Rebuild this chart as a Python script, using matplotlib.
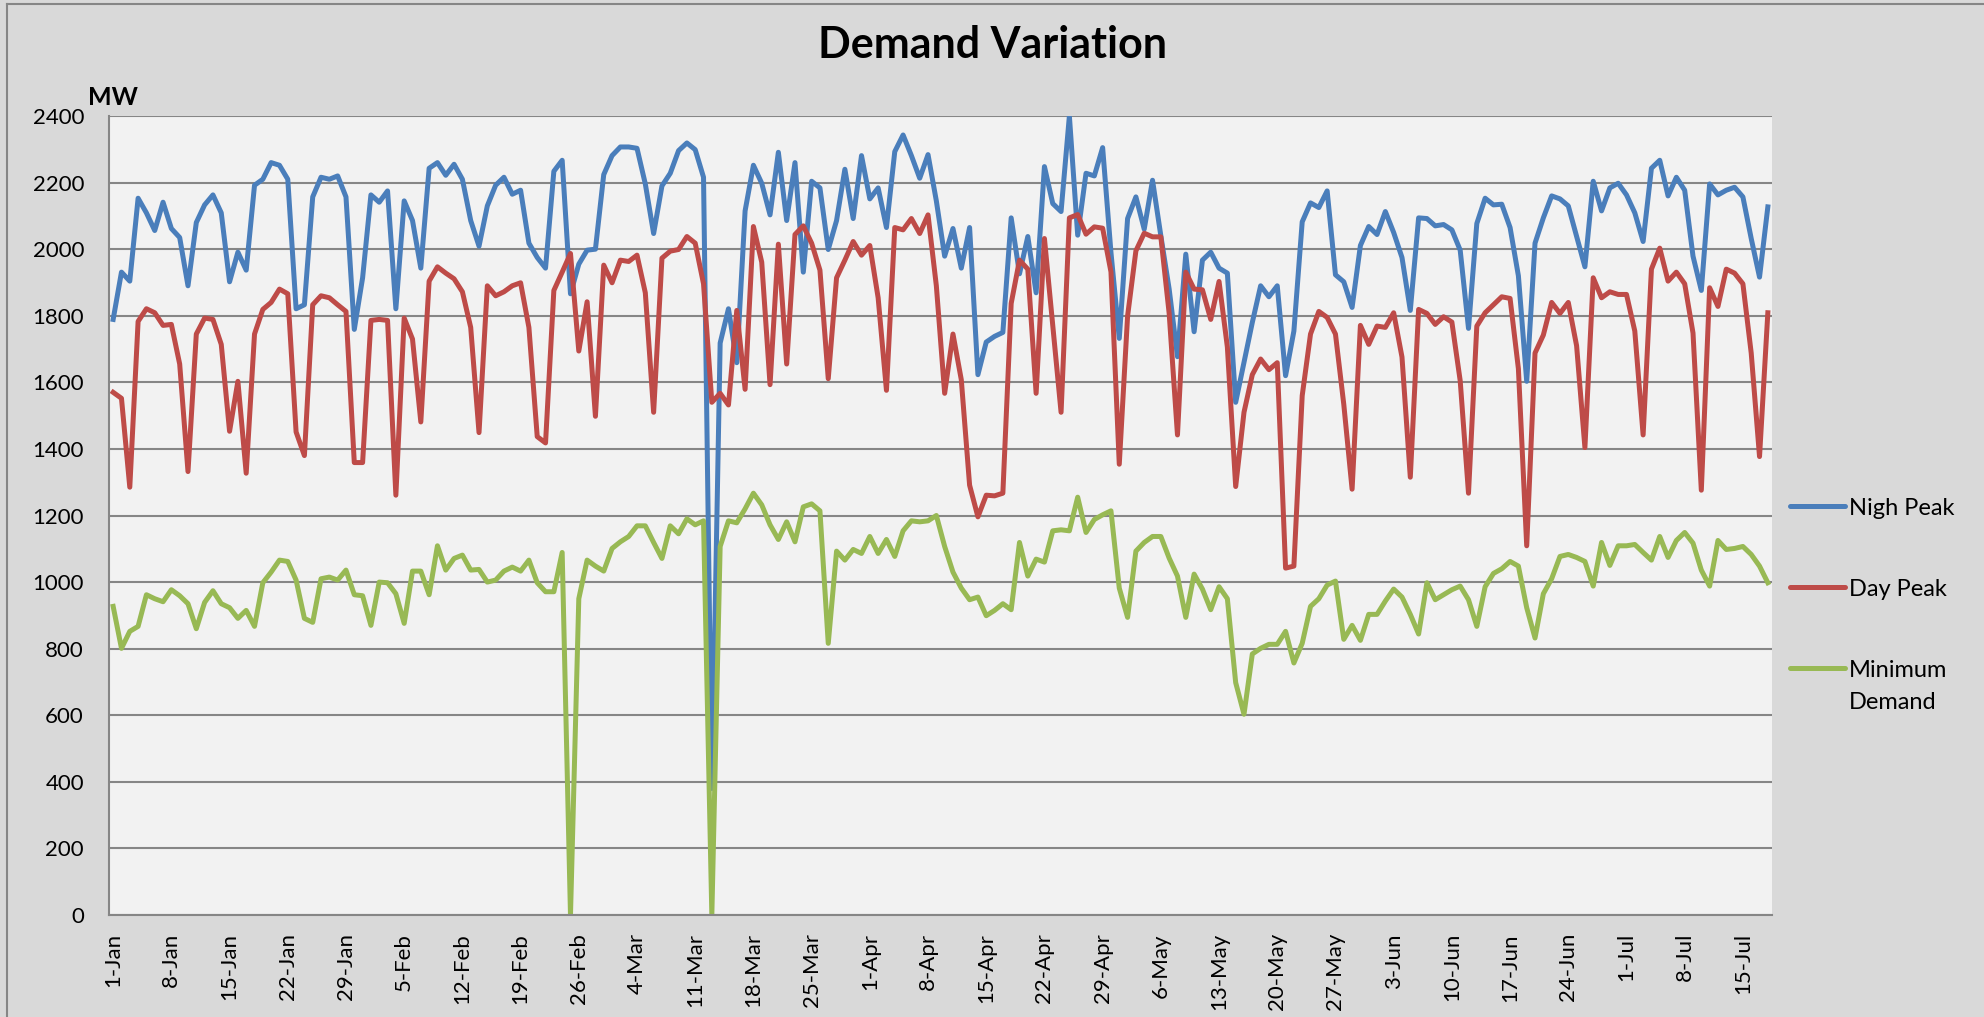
import matplotlib
matplotlib.use("Agg")
import matplotlib.pyplot as plt
import pandas as pd
from matplotlib.lines import Line2D

# daily values, 1-Jan .. 18-Jul (leap year: 26-Feb -> 4-Mar)
nigh_peak = [
    1789, 1931, 1904, 2153, 2109, 2056, 2141, 2062, 2035, 1890,
    2080, 2133, 2163, 2109, 1902, 1991, 1937, 2192, 2210, 2260,
    2252, 2210, 1821, 1833, 2157, 2216, 2210, 2220, 2157, 1759,
    1914, 2163, 2141, 2175, 1821, 2145, 2086, 1943, 2243, 2260,
    2222, 2255, 2210, 2086, 2009, 2130, 2192, 2216, 2165, 2177,
    2018, 1975, 1943, 2234, 2267, 1866, 1955, 1997, 2000, 2224,
    2281, 2307, 2307, 2303, 2196, 2047, 2190, 2228, 2296, 2319,
    2299, 2216, 380, 1718, 1821, 1659, 2115, 2252, 2198, 2103,
    2291, 2086, 2260, 1931, 2204, 2184, 1999, 2086, 2240, 2092,
    2281, 2151, 2184, 2065, 2293, 2343, 2281, 2213, 2284, 2145,
    1979, 2062, 1943, 2065, 1623, 1721, 1738, 1750, 2094, 1926,
    2038, 1869, 2248, 2137, 2113, 2400, 2042, 2228, 2220, 2305,
    1990, 1732, 2092, 2157, 2060, 2207, 2040, 1880, 1677, 1985,
    1752, 1967, 1991, 1943, 1928, 1540, 1660, 1780, 1890, 1857,
    1890, 1620, 1754, 2082, 2139, 2125, 2175, 1923, 1902, 1825,
    2011, 2068, 2044, 2113, 2050, 1975, 1816, 2094, 2092, 2070,
    2074, 2058, 1997, 1762, 2077, 2153, 2133, 2135, 2065, 1920,
    1603, 2018, 2094, 2160, 2151, 2130, 2038, 1947, 2204, 2115,
    2184, 2198, 2163, 2109, 2023, 2243, 2267, 2160, 2216, 2177,
    1979, 1876, 2196, 2163, 2177, 2186, 2157, 2032, 1916, 2127,
]

day_peak = [
    1570, 1552, 1285, 1783, 1821, 1809, 1771, 1774, 1655, 1332,
    1745, 1793, 1789, 1714, 1453, 1603, 1327, 1745, 1819, 1840,
    1880, 1866, 1451, 1380, 1833, 1860, 1854, 1833, 1813, 1359,
    1359, 1786, 1789, 1786, 1261, 1793, 1730, 1481, 1904, 1947,
    1928, 1911, 1872, 1765, 1449, 1890, 1860, 1872, 1890, 1899,
    1765, 1437, 1418, 1876, 1931, 1987, 1694, 1842, 1498, 1952,
    1899, 1967, 1963, 1982, 1869, 1510, 1973, 1994, 1999, 2038,
    2018, 1896, 1540, 1567, 1532, 1816, 1579, 2068, 1961, 1593,
    2015, 1655, 2044, 2070, 2018, 1937, 1611, 1914, 1967, 2023,
    1982, 2011, 1854, 1576, 2065, 2058, 2092, 2047, 2103, 1890,
    1567, 1745, 1608, 1291, 1196, 1261, 1259, 1267, 1837, 1967,
    1940, 1567, 2032, 1771, 1510, 2094, 2104, 2045, 2067, 2063,
    1932, 1354, 1799, 1995, 2048, 2037, 2037, 1807, 1442, 1931,
    1880, 1878, 1789, 1903, 1706, 1287, 1510, 1623, 1670, 1638,
    1659, 1042, 1048, 1560, 1745, 1813, 1795, 1745, 1534, 1279,
    1771, 1714, 1769, 1765, 1809, 1676, 1315, 1819, 1807, 1774,
    1797, 1781, 1605, 1267, 1769, 1809, 1833, 1857, 1852, 1641,
    1109, 1688, 1742, 1840, 1807, 1840, 1710, 1404, 1914, 1854,
    1872, 1864, 1864, 1754, 1442, 1940, 2003, 1904, 1931, 1896,
    1748, 1276, 1884, 1828, 1940, 1928, 1896, 1688, 1377, 1809,
]

min_demand = [
    927, 801, 852, 867, 962, 950, 941, 977, 959, 935,
    860, 939, 974, 935, 923, 891, 915, 867, 998, 1030,
    1066, 1062, 1006, 891, 879, 1010, 1015, 1006, 1036, 962,
    959, 870, 1000, 998, 965, 876, 1033, 1033, 962, 1109,
    1036, 1071, 1081, 1036, 1038, 1000, 1006, 1033, 1045, 1033,
    1066, 998, 971, 971, 1089, 0, 950, 1066, 1048, 1033,
    1101, 1121, 1137, 1169, 1169, 1119, 1071, 1169, 1145, 1190,
    1172, 1184, 0, 1107, 1184, 1178, 1220, 1267, 1232, 1172,
    1128, 1181, 1121, 1226, 1235, 1214, 816, 1093, 1066, 1098,
    1086, 1137, 1086, 1128, 1077, 1154, 1184, 1181, 1184, 1200,
    1107, 1030, 982, 947, 955, 899, 915, 935, 917, 1119,
    1018, 1069, 1060, 1154, 1157, 1154, 1255, 1149, 1188, 1202,
    1214, 982, 894, 1093, 1119, 1137, 1137, 1072, 1018, 894,
    1024, 979, 917, 986, 950, 698, 603, 784, 801, 813,
    813, 852, 757, 816, 927, 950, 991, 1003, 828, 870,
    825, 903, 903, 943, 979, 955, 903, 844, 998, 947,
    962, 977, 988, 947, 867, 986, 1026, 1040, 1062, 1048,
    923, 832, 965, 1010, 1077, 1083, 1074, 1062, 988, 1119,
    1050, 1109, 1109, 1113, 1089, 1066, 1137, 1074, 1125, 1149,
    1117, 1036, 988, 1125, 1098, 1101, 1107, 1083, 1048, 998,
]

series_names = ['Nigh Peak', 'Day Peak', 'Minimum\nDemand']
series_colors = ['#4a7ebb', '#be4b48', '#98b954']

dates = pd.date_range("2012-01-01", periods=len(nigh_peak), freq="D")
tick_dates = dates[::7]
tick_labels = [f"{d.day}-{d.strftime('%b')}" for d in tick_dates]
y_ticks = list(range(0, 2401, 200))

plt.rcParams['font.family'] = ['Lato', 'DejaVu Sans']

W, H = 1984, 1017
fig = plt.figure(figsize=(W / 100, H / 100), dpi=100, facecolor='#d9d9d9')
ax = fig.add_axes([109 / W, 1 - 915 / H, (1772 - 109) / W, (915 - 116) / H])
ax.set_facecolor('#f2f2f2')

for vals, name, col in zip([nigh_peak, day_peak, min_demand], series_names, series_colors):
    ax.plot(dates, vals, color=col, lw=3.6, solid_joinstyle='round')

ax.set_ylim(0, 2400)
ax.set_yticks(y_ticks)
ax.set_xlim(dates[0] - pd.Timedelta(hours=12), dates[-1] + pd.Timedelta(hours=12))
ax.set_xticks(tick_dates)
ax.set_xticklabels(tick_labels, rotation=90)
ax.tick_params(axis='both', length=0, labelsize=16, colors='black')
ax.tick_params(axis='x', pad=13)
ax.tick_params(axis='y', pad=18)

ax.grid(axis='y', color='#868686', lw=1.5)
ax.set_axisbelow(True)
for side in ['top', 'right']:
    ax.spines[side].set_visible(False)
for side in ['left', 'bottom']:
    ax.spines[side].set_color('#868686')
    ax.spines[side].set_linewidth(1.5)

fig.text(0.5, 1 - 45 / H, 'Demand Variation', ha='center', va='center',
         fontsize=31, fontweight='bold')
fig.text(88 / W, 1 - 105 / H, 'MW', ha='left', va='baseline',
         fontsize=18, fontweight='bold')

# legend drawn at the right, handle aligned with the first text line
legend_y = [506, 587, 668]
for name, col, yy in zip(series_names, series_colors, legend_y):
    fig.add_artist(Line2D([1790 / W, 1845 / W], [1 - yy / H] * 2, transform=fig.transFigure,
                          color=col, lw=3.6, solid_capstyle='round'))
    for i, part in enumerate(name.split('\n')):
        fig.text(1849 / W, 1 - (yy + 9 + i * 32) / H, part, ha='left', va='baseline',
                 fontsize=17)

# outer chart border (left and top)
fig.add_artist(Line2D([7 / W, 7 / W], [0, 1 - 4 / H], transform=fig.transFigure,
                      color='#868686', lw=1.5))
fig.add_artist(Line2D([7 / W, 1], [1 - 4 / H, 1 - 4 / H], transform=fig.transFigure,
                      color='#868686', lw=1.5))

fig.savefig('out.png', dpi=100, facecolor=fig.get_facecolor())
